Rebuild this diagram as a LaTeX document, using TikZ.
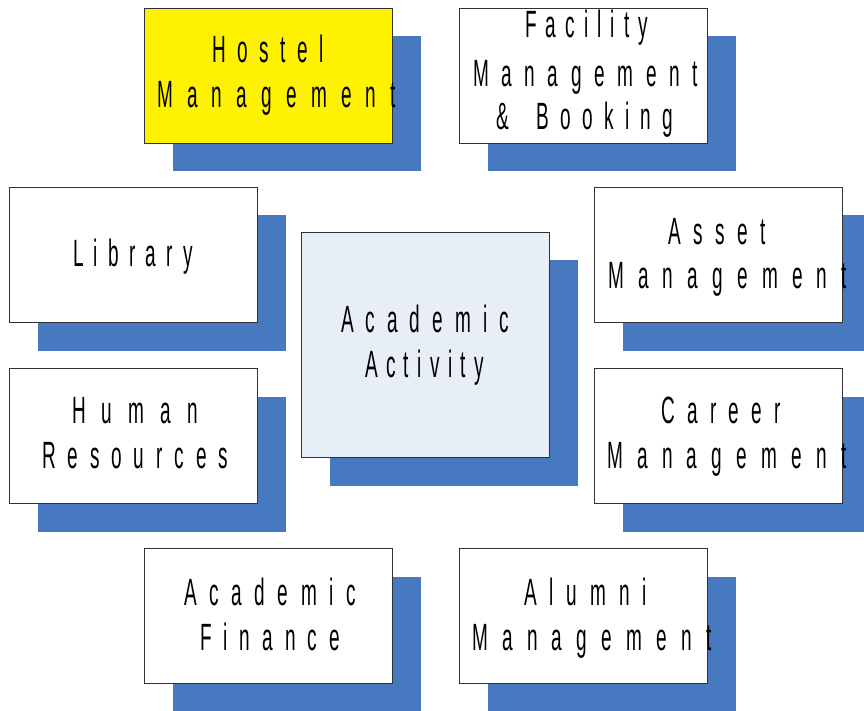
\documentclass[tikz,border=0pt]{standalone}
\usepackage{fontspec}
\setmainfont{Liberation Sans}
\newfontfamily\narrowfont[FakeStretch=0.5]{Liberation Sans}
\usetikzlibrary{shadows}
\newcommand\narrowsize{\narrowfont\fontsize{38}{44}\selectfont}
\ExplSyntaxOn
\box_new:N \l_my_line_box
\dim_new:N \l_my_gap_dim
\int_new:N \l_my_count_int
% #1 = wanted width of the line (pt), #2 = the letters
\NewDocumentCommand\spw{mm}{
  \narrowsize
  \hbox_set:Nn \l_my_line_box {#2}
  \dim_set:Nn \l_my_gap_dim { (#1pt - \box_wd:N \l_my_line_box) / (\tl_count:n {#2} - 1) }
  \int_zero:N \l_my_count_int
  \tl_map_inline:nn {#2} {
    \int_compare:nNnT {\l_my_count_int} > {0} { \kern\l_my_gap_dim }
    \int_incr:N \l_my_count_int
    ##1
  }
}
\ExplSyntaxOff
\definecolor{shadowblue}{RGB}{70,121,192}
\definecolor{centerfill}{RGB}{232,238,248}
\definecolor{boxline}{RGB}{50,50,50}
\tikzset{
  modbox/.style={draw=boxline, line width=1pt, fill=white, minimum width=248pt, minimum height=135pt,
    inner sep=0pt, anchor=north west,
    drop shadow={shadow xshift=28pt, shadow yshift=-28pt, fill=shadowblue, opacity=1}},
  lbl/.style={anchor=base west, inner sep=0pt, outer sep=0pt, text=black}
}
\begin{document}
\begin{tikzpicture}[x=1pt,y=-1pt]
\useasboundingbox (0,0) rectangle (864,711);
% boxes
\node[modbox, fill=yellow] (hostel) at (144,8) {};
\node[modbox] (facility) at (459,8) {};
\node[modbox] (library) at (9,187) {};
\node[modbox] (human) at (9,368) {};
\node[modbox, fill=centerfill, minimum height=225pt] (academic) at (301,232) {};
\node[modbox] (asset) at (594,187) {};
\node[modbox] (career) at (594,368) {};
\node[modbox] (finance) at (144,548) {};
\node[modbox] (alumni) at (459,548) {};
% labels
\node[lbl] (hostel1) at (212,63) {\spw{112}{Hostel}};
\node[lbl] (hostel2) at (157,108) {\spw{239}{Management}};
\node[lbl] (facility1) at (525,38) {\spw{123}{Facility}};
\node[lbl] (facility2) at (473,87) {\spw{225}{Management}};
\node[lbl] (facility3) at (496,130) {\spw{177}{\&{\ }Booking}};
\node[lbl] (library1) at (73,266) {\spw{120}{Library}};
\node[lbl] (human1) at (72,423) {\spw{126}{Human}};
\node[lbl] (human2) at (42,468) {\spw{186}{Resources}};
\node[lbl] (academic1) at (341,332) {\spw{168}{Academic}};
\node[lbl] (academic2) at (365,377) {\spw{119}{Activity}};
\node[lbl] (asset1) at (668,245) {\spw{98}{Asset}};
\node[lbl] (asset2) at (608,288) {\spw{239}{Management}};
\node[lbl] (career1) at (661,423) {\spw{120}{Career}};
\node[lbl] (career2) at (607,468) {\spw{240}{Management}};
\node[lbl] (finance1) at (184,605) {\spw{172}{Academic}};
\node[lbl] (finance2) at (200,650) {\spw{140}{Finance}};
\node[lbl] (alumni1) at (524,605) {\spw{123}{Alumni}};
\node[lbl] (alumni2) at (472,650) {\spw{240}{Management}};
\end{tikzpicture}
\end{document}
